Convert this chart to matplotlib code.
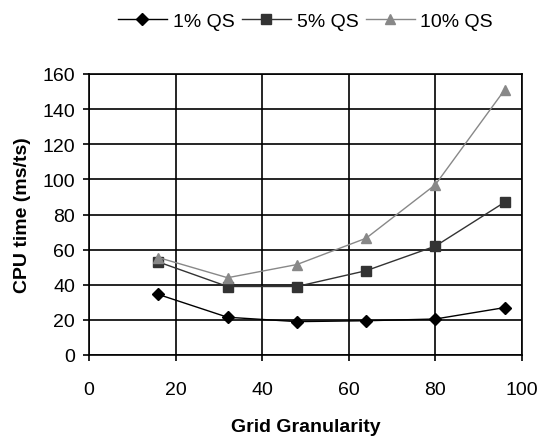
import matplotlib
matplotlib.use("Agg")
import matplotlib.pyplot as plt

plt.rcParams["font.family"] = ["Liberation Sans", "DejaVu Sans"]

# Data
granularity = [16, 32, 48, 64, 80, 96]
qs_1 = [34.5, 21.5, 19, 19.5, 20.5, 27]
qs_5 = [53, 39, 39, 48, 62, 87]
qs_10 = [55.5, 44, 51.5, 66.5, 97, 151]

fig = plt.figure(figsize=(5.39, 4.39), dpi=100)
ax = fig.add_axes([89 / 539, 1 - 356 / 439, 433 / 539, 281 / 439])

ax.plot(granularity, qs_1, color="black", lw=1, marker="D", ms=6.5, label="1% QS")
ax.plot(granularity, qs_5, color="#333333", lw=1, marker="s", ms=6.5, label="5% QS")
ax.plot(granularity, qs_10, color="#888888", lw=1, marker="^", ms=7.5, label="10% QS")

ax.set_xlim(0, 100)
ax.set_ylim(0, 160)
ax.set_xticks(range(0, 101, 20))
ax.set_yticks(range(0, 161, 20))
ax.grid(True, color="black", lw=1.2)
ax.set_axisbelow(True)
for s in ax.spines.values():
    s.set_linewidth(1.2)
ax.tick_params(direction="out", length=4, width=1.2, labelsize=14)
ax.tick_params(axis="x", pad=15)
ax.tick_params(axis="y", pad=6)

ax.set_xlabel("Grid Granularity", fontsize=14, fontweight="bold", labelpad=14)
ax.set_ylabel("CPU time (ms/ts)", fontsize=14, fontweight="bold", labelpad=8)

fig.legend(loc="upper center", bbox_to_anchor=(0.567, 1.01), ncol=3, frameon=False,
           fontsize=14, handlelength=2.5, columnspacing=0.4, handletextpad=0.3)

plt.savefig("out.png", dpi=100)
